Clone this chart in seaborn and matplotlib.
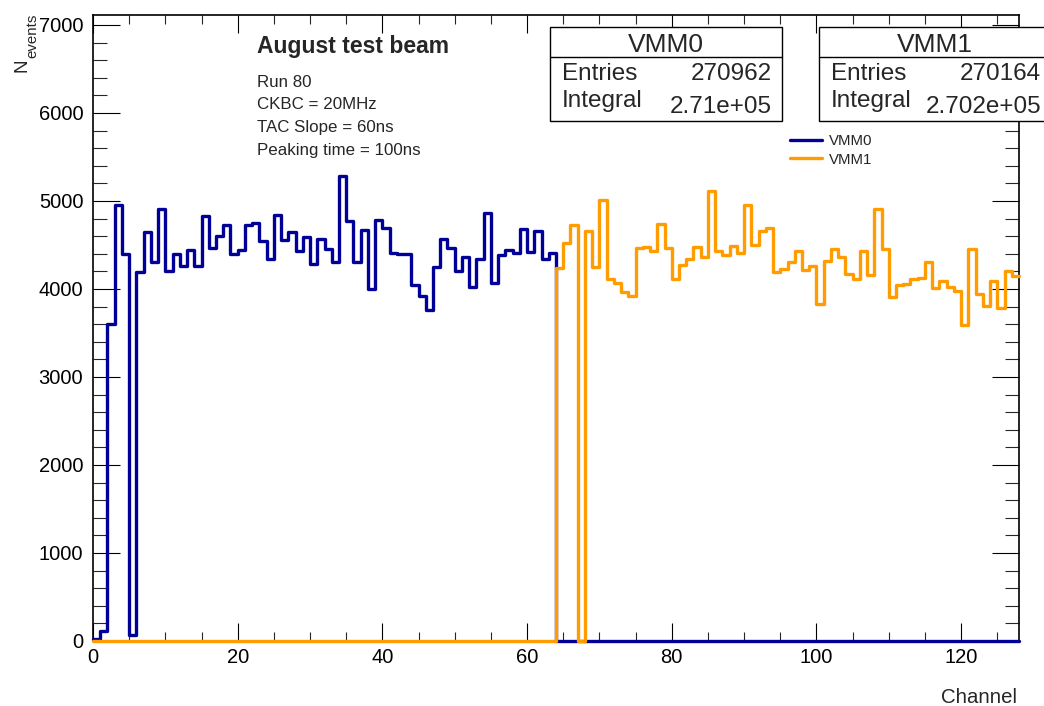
import numpy as np
import pandas as pd
import matplotlib
matplotlib.use("Agg")
import matplotlib.pyplot as plt
import seaborn as sns
from matplotlib.patches import Rectangle
from matplotlib.lines import Line2D
from matplotlib.ticker import MultipleLocator

# ---------------- data ----------------
channel_edges = list(range(0, 129))
vmm0_counts = [
    20, 115, 3600, 4955, 4400, 70, 4190, 4650, 4305, 4905,
    4205, 4395, 4260, 4445, 4260, 4830, 4460, 4600, 4725, 4395,
    4440, 4725, 4745, 4550, 4335, 4845, 4555, 4650, 4435, 4590,
    4280, 4570, 4450, 4305, 5285, 4775, 4305, 4670, 3995, 4780,
    4690, 4405, 4395, 4395, 4040, 3920, 3760, 4245, 4570, 4460,
    4205, 4360, 4020, 4335, 4860, 4070, 4385, 4445, 4405, 4680,
    4425, 4660, 4335, 4405,
    0, 0, 0, 0, 0, 0, 0, 0, 0, 0, 0, 0, 0, 0, 0, 0,
    0, 0, 0, 0, 0, 0, 0, 0, 0, 0, 0, 0, 0, 0, 0, 0,
    0, 0, 0, 0, 0, 0, 0, 0, 0, 0, 0, 0, 0, 0, 0, 0,
    0, 0, 0, 0, 0, 0, 0, 0, 0, 0, 0, 0, 0, 0, 0, 0,
]
vmm1_counts = [
    0, 0, 0, 0, 0, 0, 0, 0, 0, 0, 0, 0, 0, 0, 0, 0,
    0, 0, 0, 0, 0, 0, 0, 0, 0, 0, 0, 0, 0, 0, 0, 0,
    0, 0, 0, 0, 0, 0, 0, 0, 0, 0, 0, 0, 0, 0, 0, 0,
    0, 0, 0, 0, 0, 0, 0, 0, 0, 0, 0, 0, 0, 0, 0, 0,
    4240, 4520, 4727, 0, 4663, 4254, 5011, 4110, 4064, 3970,
    3920, 4462, 4481, 4432, 4739, 4470, 4114, 4273, 4337, 4477,
    4360, 5117, 4432, 4386, 4485, 4405, 4955, 4500, 4659, 4689,
    4195, 4227, 4307, 4432, 4216, 4261, 3830, 4322, 4451, 4360,
    4170, 4114, 4432, 4155, 4905, 4455, 3905, 4045, 4060, 4118,
    4122, 4307, 4011, 4091, 4019, 3981, 3591, 4451, 3939, 3811,
    4091, 3784, 4208, 4148,
]
series_names = ["VMM0", "VMM1"]
entries = ["270962", "270164"]
integrals = ["2.71e+05", "2.702e+05"]
info_title = "August test beam"
info_lines = ["Run 80", "CKBC = 20MHz", "TAC Slope = 60ns", "Peaking time = 100ns"]
x_ticks = [0, 20, 40, 60, 80, 100, 120]
y_ticks = [0, 1000, 2000, 3000, 4000, 5000, 6000, 7000]

BLUE = "#000099"
ORANGE = "#FF9C00"

# ---------------- style ----------------
sns.set_theme(style="ticks")
plt.rcParams["font.family"] = ["Liberation Sans", "DejaVu Sans"]

W, H = 1044, 706
fig = plt.figure(figsize=(W / 100, H / 100), dpi=100)
fig.patch.set_facecolor("white")
L, R, T, B = 93, 1019, 15, 641
ax = fig.add_axes([L / W, 1 - B / H, (R - L) / W, (B - T) / H])
ax.set_facecolor("white")


def fx(px):
    return px / W


def fy(py):
    return 1 - py / H


centers = np.array(channel_edges[:-1]) + 0.5
for name, counts, col in [("VMM0", vmm0_counts, BLUE), ("VMM1", vmm1_counts, ORANGE)]:
    df = pd.DataFrame({"Channel": centers, "N": counts})
    sns.histplot(data=df, x="Channel", weights="N", bins=channel_edges,
                 element="step", fill=False, color=col, linewidth=2.4,
                 ax=ax, label=name)
for ln in ax.lines:
    ln.set_clip_on(False)
    ln.set_zorder(3)

ax.set_xlim(0, 128)
ax.set_ylim(0, 7113)
ax.set_xticks(x_ticks)
ax.set_yticks(y_ticks)
ax.xaxis.set_minor_locator(MultipleLocator(5))
ax.yaxis.set_minor_locator(MultipleLocator(200))
ax.tick_params(axis="x", which="major", direction="in", length=13, width=0.8,
               top=True, bottom=True, labelsize=14.5, pad=5, colors="black")
ax.tick_params(axis="x", which="minor", direction="in", length=6.5, width=0.8,
               top=True, bottom=True)
ax.tick_params(axis="y", which="major", direction="in", length=19.5, width=0.8,
               left=True, right=True, labelsize=14.5, pad=7, colors="black")
ax.tick_params(axis="y", which="minor", direction="in", length=10, width=0.8,
               left=True, right=True)
for sp in ax.spines.values():
    sp.set_visible(True)
    sp.set_linewidth(1.2)
    sp.set_color("black")

ax.set_xlabel("Channel", fontsize=14.7, loc="right")
ax.xaxis.set_label_coords((1017 - L) / (R - L), -(688 - B) / (B - T))
ax.set_ylabel("")

# y title: N_events
fig.text(fx(27), fy(72), "N", rotation=90, rotation_mode="anchor",
         ha="left", va="baseline", fontsize=13.5)
fig.text(fx(36), fy(58), "events", rotation=90, rotation_mode="anchor",
         ha="left", va="baseline", fontsize=10.8)

# info text
fig.text(fx(257), fy(53), info_title, fontsize=16.5, fontweight="bold",
         ha="left", va="baseline")
for yy, line in zip([87, 109, 132, 155], info_lines):
    fig.text(fx(257), fy(yy), line, fontsize=12.2, ha="left", va="baseline")

# legend
handles = [Line2D([], [], color=BLUE, lw=2.4), Line2D([], [], color=ORANGE, lw=2.4)]
leg = ax.legend(handles, series_names, loc="upper left",
                bbox_to_anchor=(fx(790), fy(134)), bbox_transform=fig.transFigure,
                frameon=False, fontsize=10.8, handlelength=2.15, handletextpad=0.45,
                borderpad=0, borderaxespad=0, labelspacing=0.3)

# stats boxes
boxes = [(550, 782), (819, 1051)]
for (x0, x1), name, ent, integ in zip(boxes, series_names, entries, integrals):
    top, div, bot = 27, 57, 121
    rect = Rectangle((fx(x0), fy(bot)), fx(x1) - fx(x0), fy(top) - fy(bot),
                     transform=fig.transFigure, facecolor="white",
                     edgecolor="black", linewidth=1.0, zorder=5, clip_on=False)
    fig.patches.append(rect)
    fig.add_artist(Line2D([fx(x0), fx(x1)], [fy(div), fy(div)],
                          transform=fig.transFigure, color="black", lw=1.0, zorder=6))
    fig.text(fx((x0 + x1) / 2), fy(52), name, fontsize=19, ha="center",
             va="baseline", zorder=7)
    fig.text(fx(x0 + 12), fy(80), "Entries", fontsize=17.5, ha="left",
             va="baseline", zorder=7)
    fig.text(fx(x0 + 222), fy(80), ent, fontsize=17.5, ha="right",
             va="baseline", zorder=7)
    fig.text(fx(x0 + 12), fy(107), "Integral", fontsize=17.5, ha="left",
             va="baseline", zorder=7)
    fig.text(fx(x0 + 222), fy(113), integ, fontsize=17.5, ha="right",
             va="baseline", zorder=7)

fig.savefig("out.png", dpi=100, facecolor="white")
